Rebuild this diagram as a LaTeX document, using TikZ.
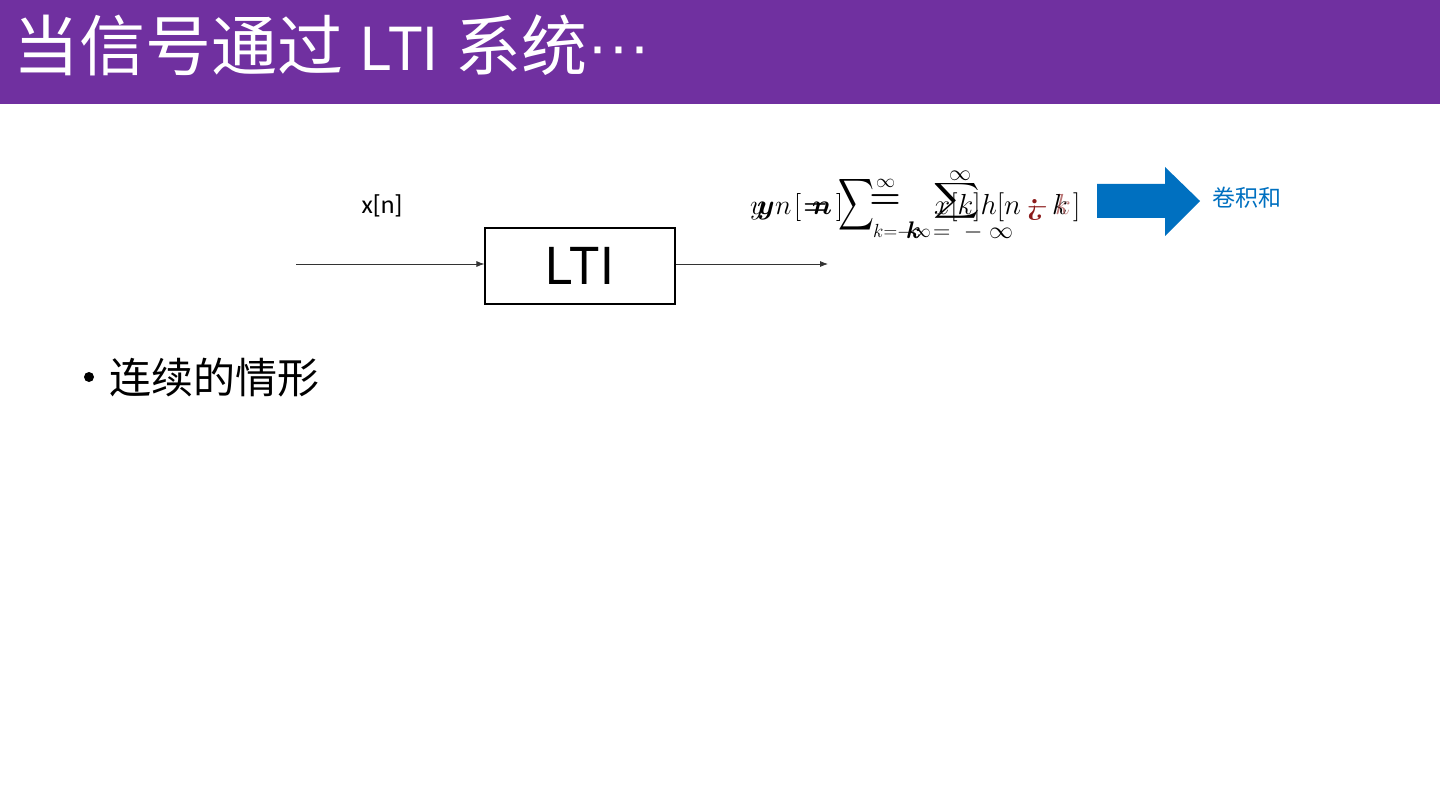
\RequirePackage{fix-cm}
\documentclass[tikz,border=0pt]{standalone}
\usepackage{fontspec}
\usepackage{amsmath}
\usepackage{exscale}
\usepackage{graphicx}
\newfontfamily\cjk{Noto Sans CJK SC}
\newfontfamily\lib{Liberation Sans}
\newfontfamily\carl{Carlito}
\usetikzlibrary{arrows.meta}
\definecolor{titlepurple}{HTML}{7030A0}
\definecolor{arrowblue}{HTML}{0070C0}
\definecolor{qred}{HTML}{8B1A1A}
\begin{document}
\begin{tikzpicture}[x=1pt,y=-1pt,
  fml/.style={inner sep=0pt, anchor=base west, font=\fontsize{29}{31}\selectfont},
  fmls/.style={inner sep=0pt, anchor=base west, font=\fontsize{28}{30}\selectfont},
  fsub/.style={inner sep=0pt, anchor=base west, font=\fontsize{19}{21}\selectfont},
  wire/.style={line width=0.8pt, black!80, -{Latex[length=8pt,width=6pt]}}]
\useasboundingbox (0,0) rectangle (1440,810);
% title bar
\fill[titlepurple] (0,0) rectangle (1440,104);
\node[inner sep=0pt, anchor=base west, text=white, font=\fontsize{63}{66}\selectfont\lib] (title) at (13,71)
  {{\cjk\fontsize{66}{68}\selectfont 当信号通过} \scalebox{0.9}[1]{LTI} {\cjk\fontsize{66}{68}\selectfont 系统}\raisebox{3pt}{···}};
% block diagram
\node[draw, line width=1.2pt, minimum width=190pt, minimum height=76pt, inner sep=0pt,
      font=\fontsize{54}{56}\selectfont\lib] (lti) at (580,266) {\scalebox{0.92}[1]{LTI}};
\coordinate (inS) at (296,264);
\coordinate (outE) at (828,264);
\draw[wire] (inS) -- (inS -| lti.west);
\draw[wire] (outE -| lti.east) -- (outE);
\node[inner sep=0pt, font=\fontsize{26}{28}\selectfont\carl] (xn) at (382,206) {x[n]};
% overlapped formula (two renderings on top of each other)
\node[fmls] (fyA) at (750,215) {$y$};
\node[fmls] (fyB) at (757,215) {$\boldsymbol{y}$};
\node[fmls] (fnA) at (775,215) {$n$};
\node[fmls] (fbA) at (794,215) {$[$};
\node[fmls] (feqB) at (803,215) {$\boldsymbol{=}$};
\node[fmls] (fnB) at (812,215) {$\boldsymbol{n}$};
\node[fmls] (fbB) at (836,215) {$]$};
\node[inner sep=0pt, font=\fontsize{37}{39}\selectfont] (sumA) at (856,205) {\scalebox{1.0}[1.45]{$\displaystyle\sum$}};
\node[fsub] (supA) at (876,188) {$\infty$};
\node[inner sep=0pt, font=\fontsize{36}{38}\selectfont] (eqBig) at (885,202) {$\boldsymbol{=}$};
\node[fsub] (subA) at (873,238) {$k{=}{-}\infty$};
\node[inner sep=0pt, anchor=base west, font=\fontsize{24}{26}\selectfont] (kB) at (906,239) {$\boldsymbol{k}$};
\node[inner sep=0pt, anchor=base west, font=\fontsize{24}{26}\selectfont] (lowB) at (933,239) {$=\;-\;\infty$};
\node[inner sep=0pt, font=\fontsize{22}{24}\selectfont] (supB) at (960,176) {$\infty$};
\node[inner sep=0pt, font=\fontsize{23}{25}\selectfont] (sumB) at (957,201) {\scalebox{1.3}[1]{$\boldsymbol{\displaystyle\sum}$}};
\node[fml] (fxk) at (934,215) {$x[k]h[n$};
\node[fml, text=qred, font=\fontsize{30}{32}\selectfont\bfseries] (fq) at (1027,215) {¿};
\node[fml, text=qred] (fm) at (1026,215) {$-$};
\node[fml] (fk) at (1052,215) {$k$};
\node[fml, text=qred, opacity=0.6] (fkr) at (1055,215) {$k$};
\node[fml] (fbC) at (1073,215) {$]$};
% blue arrow
\fill[arrowblue] (1097,184) -- (1165,184) -- (1165,167) -- (1200,201) -- (1165,236) -- (1165,218) -- (1097,218) -- cycle;
\node[inner sep=0pt, text=arrowblue, font=\cjk\fontsize{23}{25}\selectfont] (conv) at (1247,198) {卷积和};
% bullet
\node[circle, fill=black, inner sep=0pt, minimum size=10pt] (dot) at (89,377) {};
\node[inner sep=0pt, anchor=west, font=\cjk\fontsize{42}{44}\selectfont] (bul) at (109,378) {连续的情形};
\end{tikzpicture}
\end{document}
